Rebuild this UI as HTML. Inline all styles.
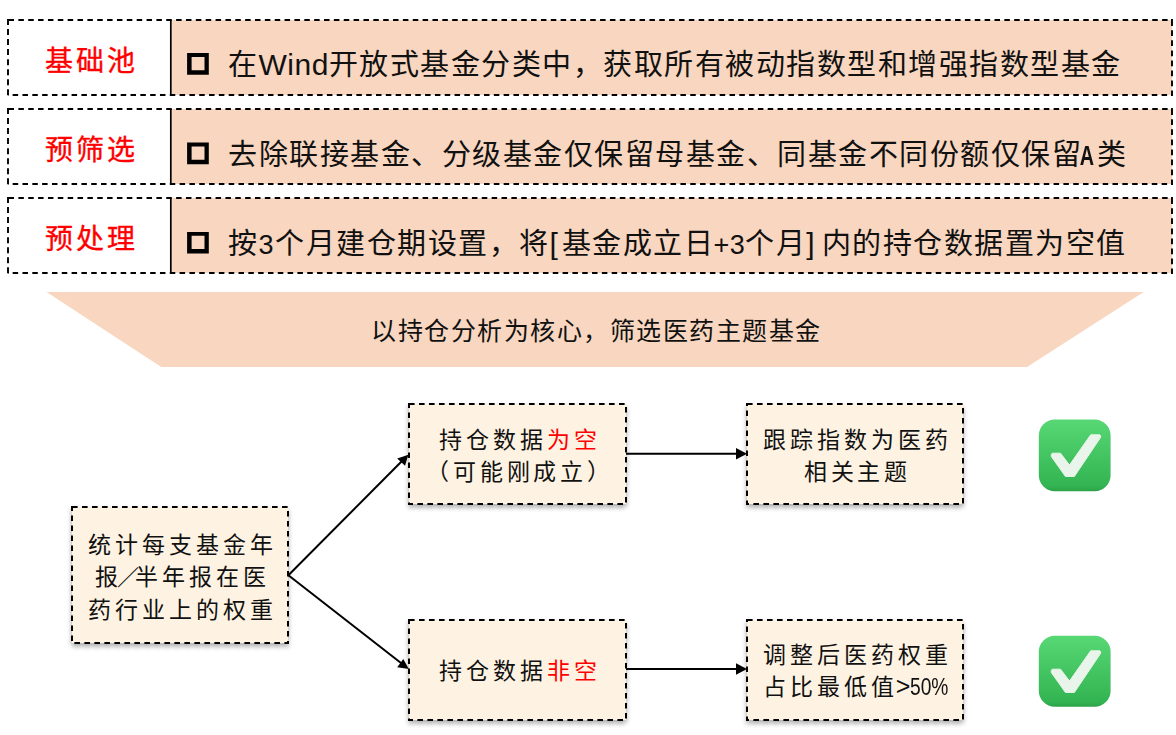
<!DOCTYPE html>
<html lang="zh-CN"><head><meta charset="utf-8">
<style>
html,body{margin:0;padding:0;background:#fff;}
body{width:1176px;height:735px;position:relative;overflow:hidden;font-family:"Liberation Sans",sans-serif;color:#111;}
svg{position:absolute;left:0;top:0;}
.t{position:absolute;white-space:nowrap;line-height:1;}
.lab{color:#ff0000;font-size:28px;letter-spacing:3px;-webkit-text-stroke:0.35px #ff0000;}
.row{font-size:29px;letter-spacing:1.5px;}
.ban{font-size:25px;letter-spacing:1.5px;}
.bx{font-size:23px;letter-spacing:3.9px;text-align:center;line-height:32.3px;padding-left:2.5px;}
.r{color:#ff0000;}
.l2{letter-spacing:3px;font-size:28px;line-height:0;display:inline-block;transform:scaleX(1.5);margin-left:-1px;}
.pc{letter-spacing:-2.3px;font-size:23px;line-height:0;margin-left:-2px;}
.l{letter-spacing:0.5px;font-size:30px;line-height:0;}
body{text-spacing-trim:space-all;}
</style></head>
<body>
<svg width="1176" height="735" viewBox="0 0 1176 735">
  <defs>
    <filter id="sh" x="-10%" y="-10%" width="125%" height="130%">
      <feGaussianBlur in="SourceAlpha" stdDeviation="2.8"/>
      <feOffset dx="0" dy="3" result="o"/>
      <feComponentTransfer><feFuncA type="linear" slope="0.32"/></feComponentTransfer>
      <feMerge><feMergeNode/><feMergeNode in="SourceGraphic"/></feMerge>
    </filter>
    <linearGradient id="gg" x1="0" y1="0" x2="0" y2="1">
      <stop offset="0" stop-color="#57d874"/>
      <stop offset="0.93" stop-color="#33b452"/>
      <stop offset="1" stop-color="#2ca148"/>
    </linearGradient>
  </defs>
  <!-- top rows -->
  <g fill="#f8d6bf">
    <rect x="171" y="20" width="1001" height="75"/>
    <rect x="171" y="109" width="1001" height="75"/>
    <rect x="171" y="198" width="1001" height="75"/>
  </g>
  <g stroke="#000" stroke-width="1.9" fill="none">
    <path d="M8.5,20 H1172" stroke-dasharray="5.5 4.36"/>
    <path d="M8,95 H1172" stroke-dasharray="5.5 4.32" stroke-dashoffset="5.16"/>
    <path d="M8,19 V96" stroke-dasharray="6 4.04"/>
    <path d="M1172,19 V96" stroke-dasharray="7 4.26 5.8 4.26 5.8 4.26 5.8 4.26 5.8 4.26 5.8 4.26 5.8 4.26 5.8 4.26"/>
    <path d="M8.5,109 H1172" stroke-dasharray="5.5 4.36"/>
    <path d="M8,184 H1172" stroke-dasharray="5.5 4.32" stroke-dashoffset="5.16"/>
    <path d="M8,108 V185" stroke-dasharray="6 4.04"/>
    <path d="M1172,108 V185" stroke-dasharray="7 4.26 5.8 4.26 5.8 4.26 5.8 4.26 5.8 4.26 5.8 4.26 5.8 4.26 5.8 4.26"/>
    <path d="M8.5,198 H1172" stroke-dasharray="5.5 4.36"/>
    <path d="M8,273 H1172" stroke-dasharray="5.5 4.32" stroke-dashoffset="5.16"/>
    <path d="M8,197 V274" stroke-dasharray="6 4.04"/>
    <path d="M1172,197 V274" stroke-dasharray="7 4.26 5.8 4.26 5.8 4.26 5.8 4.26 5.8 4.26 5.8 4.26 5.8 4.26 5.8 4.26"/>
  </g>
  <g stroke="#000" stroke-width="1.7">
    <line x1="170.8" y1="20" x2="170.8" y2="95"/>
    <line x1="170.8" y1="109" x2="170.8" y2="184"/>
    <line x1="170.8" y1="198" x2="170.8" y2="273"/>
  </g>
  <!-- bullets -->
  <g fill="#000" fill-rule="evenodd">
    <path d="M187.1,53.1h21.7v21.7h-21.7z M191.6,57h12.9v13.3h-12.9z"/>
    <path d="M187.1,142.5h21.7v21.7h-21.7z M191.6,146.4h12.9v13.3h-12.9z"/>
    <path d="M187.1,231.9h21.7v21.7h-21.7z M191.6,235.8h12.9v13.3h-12.9z"/>
  </g>
  <!-- banner -->
  <polygon points="46.5,292 1143.7,292 1027,367 161.3,367" fill="#f8d6bf"/>
  <!-- flow boxes -->
  <g fill="#fef3e2" stroke="#000" stroke-width="2" stroke-dasharray="5.6 4.4" filter="url(#sh)">
    <rect x="72" y="507" width="216" height="136"/>
    <rect x="409" y="404" width="217" height="100"/>
    <rect x="747" y="404" width="216" height="100"/>
    <rect x="409" y="620" width="217" height="100"/>
    <rect x="747" y="620" width="216" height="100"/>
  </g>
  <!-- arrows -->
  <g stroke="#000" stroke-width="2" fill="none">
    <line x1="288.4" y1="575.2" x2="402" y2="461"/>
    <line x1="288.4" y1="575.2" x2="401" y2="663"/>
    <line x1="626" y1="453.7" x2="738" y2="453.7"/>
    <line x1="626" y1="669" x2="738" y2="669"/>
  </g>
  <g fill="#000">
    <polygon points="408.4,454.8 397.2,458.6 405,465.7"/>
    <polygon points="408.8,668.9 397.2,667.2 403.3,659"/>
    <polygon points="747,453.7 736,448 736,459.4"/>
    <polygon points="747,669 736,663.3 736,674.7"/>
  </g>
  <!-- check icons -->
  <g>
    <rect x="1038.8" y="419.6" width="71.8" height="71.7" rx="16" fill="url(#gg)"/>
    <path d="M1052.3,453.2 L1060.5,453.2 L1069.5,465 L1090.7,434.8 L1099.7,434.8 Q1101.5,435.5 1100.5,437.5 L1074.4,476.4 L1065.4,476.4 L1051.3,456.5 Q1050.8,454 1052.3,453.2 Z" fill="#e9f5eb" stroke="#e9f5eb" stroke-width="1" stroke-linejoin="round"/>
    <rect x="1038.8" y="635.7" width="71.8" height="71.1" rx="16" fill="url(#gg)"/>
    <path d="M1052.3,669.2 L1060.5,669.2 L1069.5,681 L1090.7,650.8 L1099.7,650.8 Q1101.5,651.5 1100.5,653.5 L1074.4,692.4 L1065.4,692.4 L1051.3,672.5 Q1050.8,670 1052.3,669.2 Z" fill="#e9f5eb" stroke="#e9f5eb" stroke-width="1" stroke-linejoin="round"/>
  </g>
</svg>

<div class="t lab" style="left:45px;top:47.5px;">基础池</div>
<div class="t lab" style="left:45px;top:136.5px;">预筛选</div>
<div class="t lab" style="left:45px;top:225.5px;">预处理</div>

<div class="t row" style="left:228px;top:51px;">在<span class="l">Wind</span>开放式基金分类中，获取所有被动指数型和增强指数型基金</div>
<div class="t row" style="left:228px;top:140.5px;">去除联接基金、分级基金仅保留母基金、同基金不同份额仅保留<span class="l" style="display:inline-block;font-size:27.5px;letter-spacing:0;transform:scaleX(0.72);font-weight:bold;margin:0 0.5px 0 -5.5px">A</span>类</div>
<div class="t row" style="left:228px;top:230px;">按<span class="l" style="font-size:27px;letter-spacing:1.5px">3</span>个月建仓期设置，将<span class="l" style="letter-spacing:4px">[</span>基金成立日<span class="l" style="font-size:27px;letter-spacing:0.5px;margin-left:-1px">+3</span>个月<span class="l" style="letter-spacing:7px">]</span>内的持仓数据置为空值</div>

<div class="t ban" style="left:371px;top:319px;">以持仓分析为核心，筛选医药主题基金</div>

<div class="t bx" style="left:72px;top:529px;width:216px;">统计每支基金年<br>报<span style="letter-spacing:-5.5px;margin-left:-5px;margin-right:2px;font-size:22px;line-height:0">／</span>半年报在医<br>药行业上的权重</div>
<div class="t bx" style="left:409px;top:424px;width:217px;">持仓数据<span class="r">为空</span><br>（可能刚成立）</div>
<div class="t bx" style="left:747px;top:424px;width:216px;">跟踪指数为医药<br>相关主题</div>
<div class="t bx" style="left:409px;top:655px;width:217px;">持仓数据<span class="r">非空</span></div>
<div class="t bx" style="left:747px;top:639px;width:216px;">调整后医药权重<br><span style="position:relative;left:-2px">占比最低值</span><span class="pc" style="font-size:25px;letter-spacing:1px;position:relative;left:-2px">&gt;</span><span class="pc" style="display:inline-block;font-size:24px;letter-spacing:0;transform:scaleX(0.8);transform-origin:0 50%;margin-right:-9.6px;position:relative;left:-1px">50%</span></div>
</body></html>
